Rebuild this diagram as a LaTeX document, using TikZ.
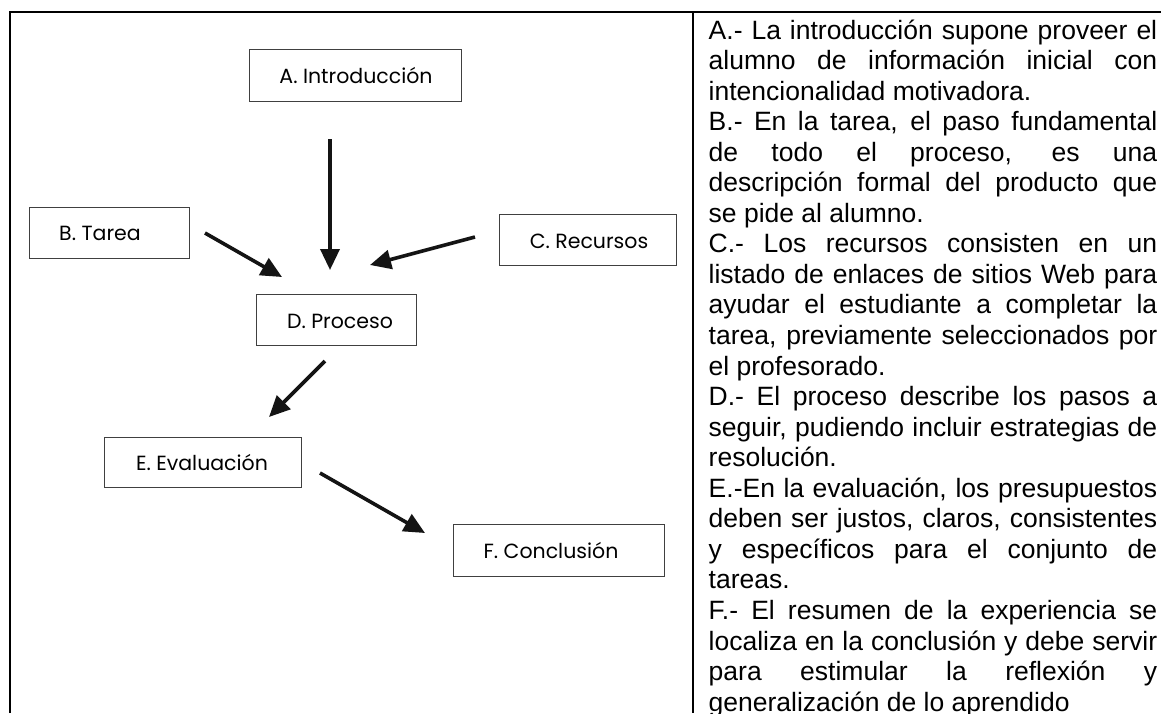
\documentclass[tikz,border=0pt]{standalone}
\usepackage{fontspec}
\setmainfont{Liberation Sans}
\newfontfamily\boxfont{Poppins}
\usetikzlibrary{arrows.meta}
\newcommand\rtxt{\fontsize{26.5}{30.55}\selectfont}
\newcommand\jline[2]{\node[rline] (l#1) at (708.5,{39+(#1-1)*30.55}) {\makebox[448.5pt][s]{#2}};}
\newcommand\lline[2]{\node[rline] (l#1) at (708.5,{39+(#1-1)*30.55}) {#2};}
\begin{document}
\begin{tikzpicture}[x=1pt,y=-1pt,
  frame/.style={line width=2.2pt, black},
  divline/.style={line width=1.5pt, black},
  box/.style={draw=black!75, line width=0.9pt, inner sep=0pt},
  lbl/.style={font=\boxfont\fontsize{20.5}{24}\selectfont, inner sep=0pt, anchor=base},
  arr/.style={line width=3.6pt, black!92, -{Triangle[length=21pt,width=19pt]}},
  rline/.style={anchor=base west, inner sep=0pt, font=\rtxt}]
\clip (0,0) rectangle (1161,713);
\fill[white] (0,0) rectangle (1161,713);
% table frame
\draw[frame] (10,713) -- (10,12) -- (1170,12);
\draw[divline] (693,12) -- (693,713);
% boxes
\node[box, minimum width=212pt, minimum height=52pt] (A) at (355,75) {};
\node[box, minimum width=160pt, minimum height=51pt] (B) at (109,232.5) {};
\node[box, minimum width=177pt, minimum height=51pt] (C) at (587.5,239.5) {};
\node[box, minimum width=160pt, minimum height=51pt] (D) at (336,319.5) {};
\node[box, minimum width=197pt, minimum height=50pt] (E) at (202.5,462) {};
\node[box, minimum width=211pt, minimum height=52pt] (F) at (558.5,550) {};
% labels
\node[lbl] (At) at (356,83.5) {A. Introducción};
\node[lbl] (Bt) at (100,240) {B. Tarea};
\node[lbl] (Ct) at (589,248.5) {C. Recursos};
\node[lbl] (Dt) at (340,328) {D. Proceso};
\node[lbl] (Et) at (202,470) {E. Evaluación};
\node[lbl] (Ft) at (551,558) {F. Conclusión};
% arrow ends
\coordinate (a1) at (330,139); \coordinate (a2) at (330,270);
\coordinate (b1) at (205,233); \coordinate (b2) at (282,277);
\coordinate (c1) at (475,237); \coordinate (c2) at (370,265);
\coordinate (d1) at (325,361); \coordinate (d2) at (269,417);
\coordinate (e1) at (320,473); \coordinate (e2) at (425,533);
\draw[arr] (a1) -- (a2);
\draw[arr] (b1) -- (b2);
\draw[arr] (c1) -- (c2);
\draw[arr] (d1) -- (d2);
\draw[arr] (e1) -- (e2);
% right column text
\jline{1}{A.- La introducción supone proveer el}
\jline{2}{alumno de información inicial con}
\lline{3}{intencionalidad motivadora.}
\jline{4}{B.- En la tarea, el paso fundamental}
\jline{5}{de todo el proceso, es una}
\jline{6}{descripción formal del producto que}
\lline{7}{se pide al alumno.}
\jline{8}{C.- Los recursos consisten en un}
\jline{9}{listado de enlaces de sitios Web para}
\jline{10}{ayudar el estudiante a completar la}
\jline{11}{tarea, previamente seleccionados por}
\lline{12}{el profesorado.}
\jline{13}{D.- El proceso describe los pasos a}
\jline{14}{seguir, pudiendo incluir estrategias de}
\lline{15}{resolución.}
\jline{16}{E.-En la evaluación, los presupuestos}
\jline{17}{deben ser justos, claros, consistentes}
\jline{18}{y específicos para el conjunto de}
\lline{19}{tareas.}
\jline{20}{F.- El resumen de la experiencia se}
\jline{21}{localiza en la conclusión y debe servir}
\jline{22}{para estimular la reflexión y}
\lline{23}{generalización de lo aprendido}
\end{tikzpicture}
\end{document}
